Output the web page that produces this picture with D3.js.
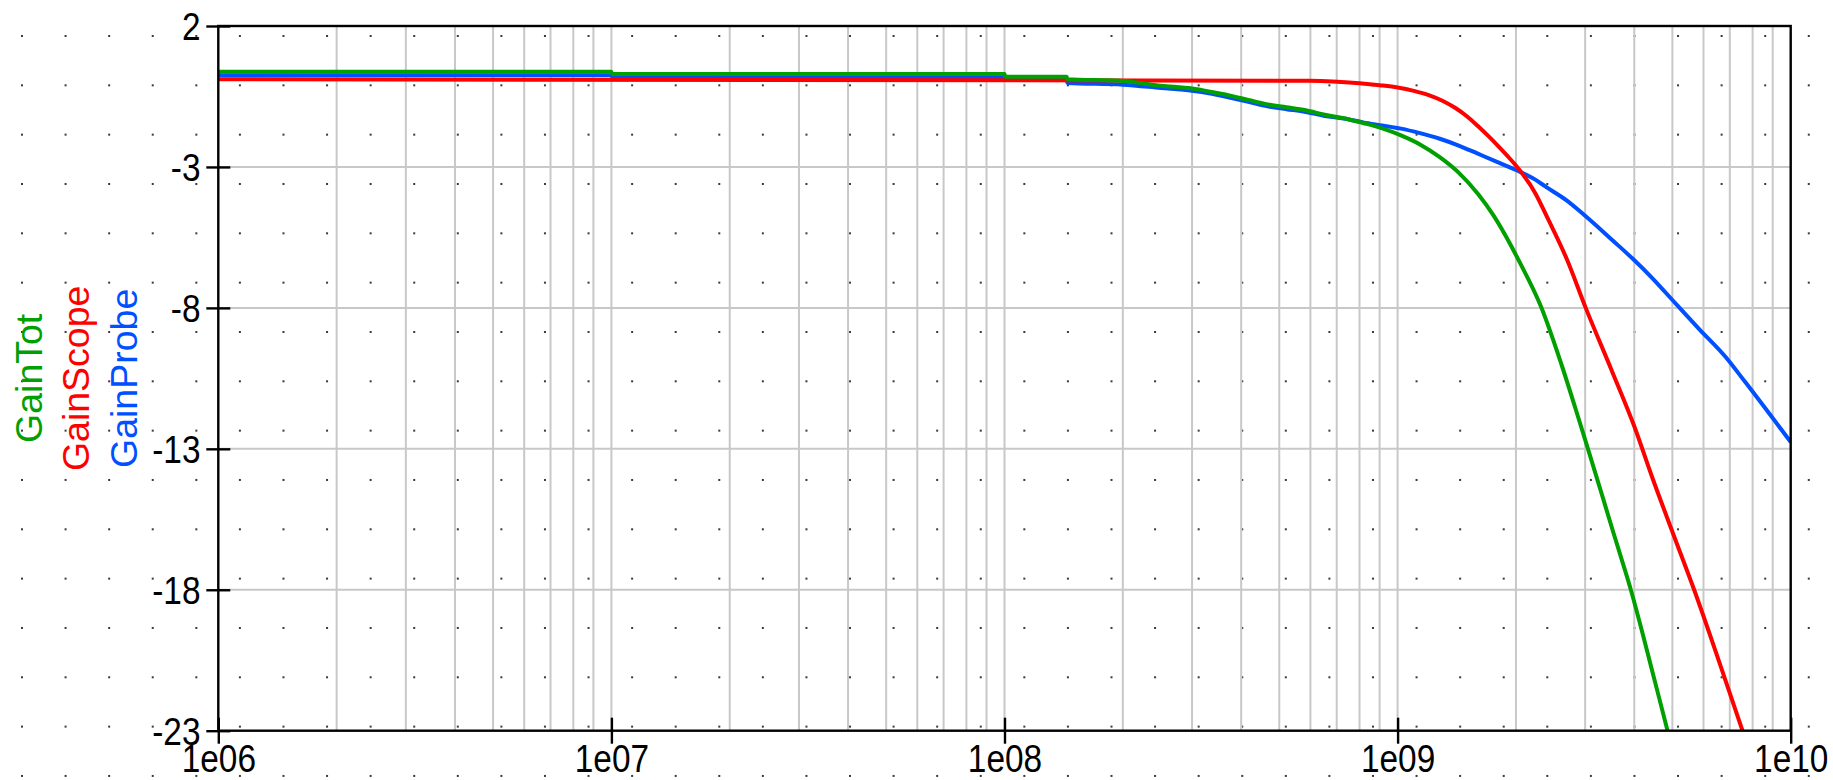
<!DOCTYPE html>
<html>
<head>
<meta charset="utf-8">
<script src="https://cdn.jsdelivr.net/npm/d3@7"></script>
<style>
  html, body { margin: 0; padding: 0; background: #fff; }
  svg { display: block; }
</style>
</head>
<body>
<svg id="chart" width="1833" height="780"></svg>
<script>
// Axis ticks and labels
const xTicks = [1e6, 1e7, 1e8, 1e9, 1e10];
const xTickLabels = ["1e06", "1e07", "1e08", "1e09", "1e10"];
const yTicks = [2, -3, -8, -13, -18, -23];
const yTickLabels = ["2", "-3", "-8", "-13", "-18", "-23"];

// Series names (legend order)
const seriesNames = ["GainTot", "GainScope", "GainProbe"];

// GainTot: frequency (Hz) and gain (dB)
const freqTot = [1e6, 1e7, 1.004e7, 1e8, 1.004e8, 1.44e8, 1.445e8, 2.0e8, 2.5e8, 3.0e8, 3.34e8,
  3.73e8, 4.17e8, 4.67e8, 5.22e8, 5.84e8, 6.53e8, 7.3e8, 8.17e8, 9.14e8, 1.02e9, 1.14e9,
  1.28e9, 1.43e9, 1.6e9, 1.75e9, 1.95e9, 2.03e9, 2.32e9, 2.61e9, 2.88e9, 3.04e9, 3.32e9,
  3.55e9, 3.73e9, 3.92e9, 4.19e9, 4.4e9, 4.62e9, 4.86e9];
const gainTot = [0.38, 0.38, 0.30, 0.30, 0.20, 0.20, 0.11, 0.05, -0.12, -0.22, -0.33,
  -0.46, -0.62, -0.78, -0.88, -0.99, -1.15, -1.27, -1.44, -1.63, -1.88, -2.2,
  -2.65, -3.2, -3.95, -4.7, -5.83, -6.3, -7.98, -10.0, -11.88, -12.94, -14.69,
  -16.03, -17.0, -18.0, -19.5, -20.65, -21.8, -23.0];

// GainScope: frequency (Hz) and gain (dB)
const freqScope = [1e6, 6e8, 8e8, 9e8, 1e9, 1.1e9, 1.2e9, 1.3e9, 1.4e9, 1.5e9, 1.6e9, 1.7e9,
  1.8e9, 1.9e9, 2.0e9, 2.24e9, 2.42e9, 2.7e9, 3.01e9, 3.5e9, 4.0e9, 4.44e9, 5.05e9, 5.68e9,
  6.51e9, 7.54e9];
const gainScope = [0.11, 0.06, -0.03, -0.10, -0.18, -0.30, -0.45, -0.65, -0.9, -1.2, -1.55, -1.9,
  -2.25, -2.6, -2.95, -3.93, -4.88, -6.3, -8.0, -10.2, -12.2, -14.0, -16.1, -18.0,
  -20.37, -23.0];

// GainProbe: frequency (Hz) and gain (dB)
const freqProbe = [1e6, 1e7, 1.004e7, 1e8, 1.004e8, 1.44e8, 1.445e8, 2.0e8, 2.5e8, 3.0e8, 3.34e8,
  3.73e8, 4.17e8, 4.67e8, 5.22e8, 5.84e8, 6.53e8, 7.3e8, 8.17e8, 9.14e8, 1.02e9, 1.14e9,
  1.28e9, 1.43e9, 1.6e9, 1.79e9, 2.0e9, 2.24e9, 2.38e9, 2.68e9, 3.01e9, 3.52e9, 3.96e9,
  4.45e9, 5.0e9, 5.85e9, 6.84e9, 7.68e9, 1e10];
const gainProbe = [0.25, 0.25, 0.19, 0.19, 0.08, 0.08, -0.02, -0.08, -0.20, -0.30, -0.40,
  -0.54, -0.69, -0.85, -0.95, -1.05, -1.19, -1.28, -1.42, -1.53, -1.64, -1.80,
  -2.0, -2.24, -2.53, -2.82, -3.11, -3.45, -3.70, -4.17, -4.75, -5.6, -6.25,
  -6.95, -7.72, -8.75, -9.75, -10.65, -12.76];

// Layout and styling
const W = 1833, H = 780;
const plot = { left: 218.3, top: 26, right: 1790.7, bottom: 730.7 };
const colors = { GainTot: "#00a000", GainScope: "#ff0000", GainProbe: "#0050ff" };
const labelFont = "'Liberation Sans', Arial, sans-serif";
const labelSize = 33.4;
const labelStretch = 1.17;

const svg = d3.select("#chart");

const x = d3.scaleLog().domain([xTicks[0], xTicks[xTicks.length - 1]])
  .range([plot.left, plot.right]);
const y = d3.scaleLinear().domain([yTicks[yTicks.length - 1], yTicks[0]])
  .range([plot.bottom, plot.top]);

// Dotted background lattice over the whole page
const dotDX = 43.58, dotDY = 49.33, dotX0 = 22, dotY0 = 36;
const dotXs = d3.range(dotX0, W, dotDX);
const dotYs = d3.range(dotY0, H, dotDY);
const dots = [];
dotYs.forEach(dy => dotXs.forEach(dx => dots.push([dx, dy])));
svg.append("g").selectAll("rect").data(dots).join("rect")
  .attr("x", d => d[0] - 1).attr("y", d => d[1] - 1)
  .attr("width", 2).attr("height", 2)
  .attr("fill", "#3a3a3a");

// Grid: log minor/major verticals, horizontals at each y tick
const vGrid = [];
for (let e = 6; e < 10; e++) {
  for (let m = 1; m <= 9; m++) {
    const v = m * Math.pow(10, e);
    if (v > xTicks[0]) vGrid.push(v);
  }
}
const grid = svg.append("g").attr("stroke", "#c8c8c8").attr("stroke-width", 2);
grid.selectAll("line.v").data(vGrid).join("line").attr("class", "v")
  .attr("x1", d => x(d)).attr("x2", d => x(d))
  .attr("y1", plot.top).attr("y2", plot.bottom);
grid.selectAll("line.h").data(yTicks.slice(1, -1)).join("line").attr("class", "h")
  .attr("x1", plot.left).attr("x2", plot.right)
  .attr("y1", d => y(d)).attr("y2", d => y(d));

// Curves
svg.append("defs").append("clipPath").attr("id", "plotClip")
  .append("rect").attr("x", plot.left).attr("y", plot.top)
  .attr("width", plot.right - plot.left).attr("height", plot.bottom - plot.top);

const line = d3.line().curve(d3.curveMonotoneX).x(d => x(d[0])).y(d => y(d[1]));
const series = [
  { name: "GainProbe", f: freqProbe, g: gainProbe },
  { name: "GainScope", f: freqScope, g: gainScope },
  { name: "GainTot", f: freqTot, g: gainTot }
];
const curves = svg.append("g").attr("clip-path", "url(#plotClip)");
series.forEach(s => {
  curves.append("path")
    .datum(s.f.map((f, i) => [f, s.g[i]]))
    .attr("fill", "none")
    .attr("stroke", colors[s.name])
    .attr("stroke-width", 4)
    .attr("stroke-linejoin", "round")
    .attr("d", line);
});

// Frame
svg.append("rect")
  .attr("x", plot.left).attr("y", plot.top)
  .attr("width", plot.right - plot.left).attr("height", plot.bottom - plot.top)
  .attr("fill", "none").attr("stroke", "#000").attr("stroke-width", 2.4);

// Bottom axis
const xAxis = d3.axisBottom(x).tickValues(xTicks)
  .tickFormat((d, i) => xTickLabels[i]).tickSizeOuter(0);
const gx = svg.append("g").attr("transform", `translate(0,${plot.bottom})`).call(xAxis);
gx.select(".domain").remove();
gx.selectAll(".tick line").attr("y1", -13).attr("y2", 13)
  .attr("stroke", "#000").attr("stroke-width", 2.4);
gx.selectAll(".tick text")
  .attr("font-family", labelFont).attr("font-size", labelSize).attr("fill", "#000")
  .attr("text-anchor", "middle")
  .attr("dy", null)
  .attr("y", 41.5 / labelStretch)
  .attr("transform", `scale(1,${labelStretch})`);

// Left axis
const yAxis = d3.axisLeft(y).tickValues(yTicks)
  .tickFormat((d, i) => yTickLabels[i]).tickSizeOuter(0);
const gy = svg.append("g").attr("transform", `translate(${plot.left},0)`).call(yAxis);
gy.select(".domain").remove();
gy.selectAll(".tick line").attr("x1", -12).attr("x2", 12)
  .attr("stroke", "#000").attr("stroke-width", 2.4);
gy.selectAll(".tick text")
  .attr("font-family", labelFont).attr("font-size", labelSize).attr("fill", "#000")
  .attr("text-anchor", "end")
  .attr("x", -(plot.left - 200.5))
  .attr("dy", null)
  .attr("y", 13.5 / labelStretch)
  .attr("transform", `scale(1,${labelStretch})`);

// Vertical legend stacked on the left
const legendX = [42, 89, 137];
const legendY = (plot.top + plot.bottom) / 2;
svg.append("g").selectAll("text").data(seriesNames).join("text")
  .attr("transform", (d, i) => `translate(${legendX[i]},${legendY}) rotate(-90)`)
  .attr("text-anchor", "middle")
  .attr("font-family", labelFont)
  .attr("font-size", 37.5)
  .attr("fill", d => colors[d])
  .text(d => d);
</script>
</body>
</html>
